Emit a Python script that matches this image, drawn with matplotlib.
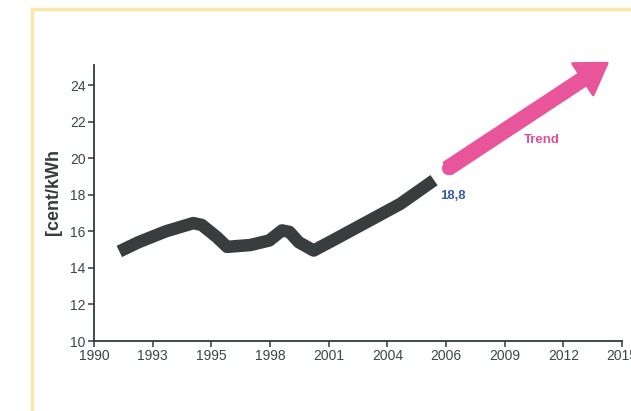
import matplotlib
matplotlib.use("Agg")
import matplotlib.pyplot as plt
import numpy as np
from matplotlib.lines import Line2D

# ---- data ----
years = [1991.2, 1992.1, 1993.4, 1994.7, 1995.1, 1995.8, 1996.3, 1997.4, 1998.3,
         1998.9, 1999.25, 1999.7, 2000.4, 2001.3, 2002.9, 2004.5, 2006.1]
prices = [14.9, 15.4, 16.0, 16.45, 16.35, 15.7, 15.15, 15.25, 15.5,
          16.05, 15.97, 15.4, 14.95, 15.5, 16.5, 17.5, 18.8]
trend_years = [2006.75, 2014.3]
trend_values = [19.45, 25.2]
tick_labels = ["1990", "1993", "1995", "1998", "2001", "2004", "2006", "2009", "2012", "2015"]
y_ticks = [10, 12, 14, 16, 18, 20, 22, 24]
last_label = "18,8"

W, H = 631, 411
fig = plt.figure(figsize=(W / 100, H / 100), dpi=100)
fig.patch.set_facecolor("white")

# yellow frame
frame_col = "#FBE8A6"
fig.add_artist(Line2D([32 / W, 32 / W], [0, 1 - 9 / H], color=frame_col, lw=2.5,
                      transform=fig.transFigure))
fig.add_artist(Line2D([32 / W, 1.0], [1 - 9 / H, 1 - 9 / H], color=frame_col, lw=2.5,
                      transform=fig.transFigure))

left, right = 94, 622
bottom_px, top_px = 341, 65
ax = fig.add_axes([left / W, (H - bottom_px) / H, (right - left) / W, (bottom_px - top_px) / H])
ax.set_facecolor("none")

fam = ["Liberation Sans", "DejaVu Sans"]
axis_col = "#2f3b3b"
label_col = "#3a4747"

ax.plot(years, prices, color="#3a3d3e", lw=9, solid_capstyle="butt", solid_joinstyle="round")

pink = "#E8559A"
ax.annotate("", xy=(trend_years[1], trend_values[1]), xytext=(trend_years[0], trend_values[0]),
            annotation_clip=False,
            arrowprops=dict(arrowstyle="simple,head_length=0.7,head_width=0.9,tail_width=0.32",
                            mutation_scale=30, color=pink, shrinkA=0, shrinkB=0,
                            joinstyle="round", lw=2, clip_on=False))
ax.plot([trend_years[0]], [trend_values[0]], "o", ms=9.5, color=pink, mec="none")

ax.text(2011.2, 21.0, "Trend", color="#D9509A", fontsize=9.5, fontweight="bold",
        family=fam, ha="center", va="center")
ax.text(2007.0, 17.94, last_label, color="#3B5BA5", fontsize=9.5, fontweight="bold",
        family=fam, ha="center", va="center")

ax.set_xlim(1990, 2015)
ax.set_ylim(10, 25.1)
ax.set_xticks(np.linspace(1990, 2015, len(tick_labels)))
ax.set_xticklabels(tick_labels)
ax.set_yticks(y_ticks)
ax.set_yticklabels([str(v) for v in y_ticks])

for s in ["top", "right"]:
    ax.spines[s].set_visible(False)
for s in ["left", "bottom"]:
    ax.spines[s].set_color(axis_col)
    ax.spines[s].set_linewidth(1.3)

ax.tick_params(axis="both", direction="out", length=4, width=1.1, color=axis_col,
               labelcolor=label_col, labelsize=10, pad=2)
for lab in ax.get_xticklabels() + ax.get_yticklabels():
    lab.set_family(fam)

ax.set_ylabel("[cent/kWh", fontsize=13, fontweight="bold", color="#333d3d", family=fam)
ax.yaxis.set_label_coords(-0.061, 0.54)

fig.savefig("out.png", dpi=100)
